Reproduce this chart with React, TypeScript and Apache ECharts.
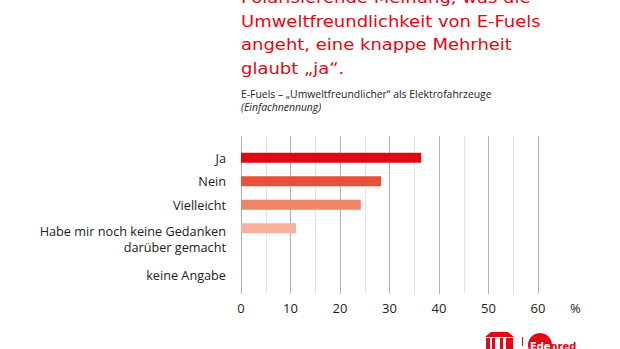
import React, { useEffect, useRef } from "react";
import * as echarts from "echarts";

const categories = [
  "Ja",
  "Nein",
  "Vielleicht",
  "Habe mir noch keine Gedanken\ndarüber gemacht",
  "",
  "keine Angabe",
];
const values: (number | null)[] = [36.4, 28.3, 24.2, 11.1, null, 0];
const barColors = ["#e30613", "#e8503a", "#f08466", "#f7b19c", "#f7b19c", "#f7b19c"];
const xTicks = [0, 10, 20, 30, 40, 50, 60];
const titleLines = [
  "Polarisierende Meinung, was die",
  "Umweltfreundlichkeit von E-Fuels",
  "angeht, eine knappe Mehrheit",
  "glaubt „ja“.",
];
const subtitle = "E-Fuels – „Umweltfreundlicher“ als Elektrofahrzeuge";
const subtitle2 = "(Einfachnennung)";

export default function App() {
  const ref = useRef<HTMLDivElement>(null);
  useEffect(() => {
    if (!ref.current) return;
    const chart = echarts.init(ref.current, null, { renderer: "svg" });
    const labelFont = "'Open Sans', sans-serif";
    const fs = 12.7;
    chart.setOption({
      animation: false,
      backgroundColor: "#ffffff",
      grid: [
        { left: 241, right: 82, top: 136, bottom: 55 },
        { left: 241, right: 82, top: 146, bottom: 62 },
      ],
      xAxis: [
        {
          gridIndex: 0,
          type: "value",
          min: xTicks[0],
          max: xTicks[xTicks.length - 1],
          interval: 10,
          axisLine: { show: false },
          axisTick: { show: false },
          minorTick: { show: false, splitNumber: 2 },
          splitLine: { show: true, lineStyle: { color: "#b0b0b0", width: 1 } },
          minorSplitLine: { show: true, lineStyle: { color: "#e4e4e4", width: 1 } },
          axisLabel: { margin: 7, fontSize: 13, color: "#222", fontFamily: labelFont },
        },
        { gridIndex: 1, type: "value", min: 0, max: 60, show: false },
      ],
      yAxis: [
        { gridIndex: 0, type: "value", show: false },
        {
          gridIndex: 1,
          type: "category",
          inverse: true,
          data: categories,
          axisLine: { show: false },
          axisTick: { show: false },
          splitLine: { show: false },
          axisLabel: {
            margin: 15,
            fontSize: fs,
            color: "#222",
            fontFamily: labelFont,
            formatter: (v: string) =>
              v.indexOf("\n") >= 0
                ? "{s| }\n{m|" + v.split("\n").join("}\n{m|") + "}"
                : v,
            rich: {
              s: { fontSize: 4, lineHeight: 21 },
              m: { fontSize: fs, color: "#222", fontFamily: labelFont, lineHeight: 16 },
            },
          },
        },
      ],
      series: [
        {
          type: "bar",
          xAxisIndex: 1,
          yAxisIndex: 1,
          barWidth: 10,
          data: values.map((v, i) => ({ value: v, itemStyle: { color: barColors[i] } })),
        },
      ],
      graphic: [
        {
          type: "text",
          x: 241,
          y: -14,
          scaleX: 1.09,
          style: {
            text: titleLines.join("\n"),
            fill: "#e30613",
            font: "16.5px 'DejaVu Sans', sans-serif",
            lineHeight: 23.5,
            verticalAlign: "top",
          },
        },
        {
          type: "text",
          x: 241,
          y: 94,
          style: {
            text: subtitle,
            fill: "#222",
            font: "10.4px 'Open Sans', sans-serif",
            verticalAlign: "middle",
          },
        },
        {
          type: "text",
          x: 241,
          y: 107,
          style: {
            text: subtitle2,
            fill: "#222",
            font: "italic 10.4px 'Open Sans', sans-serif",
            verticalAlign: "middle",
          },
        },
        {
          type: "text",
          x: 570,
          y: 308,
          style: {
            text: "%",
            fill: "#222",
            font: "13px 'Open Sans', sans-serif",
            verticalAlign: "middle",
          },
        },
        {
          type: "group",
          children: [
            { type: "polygon", shape: { points: [[485, 337], [491, 332], [508, 332], [514, 337]] }, style: { fill: "#e30613" } },
            { type: "rect", shape: { x: 486, y: 338, width: 4, height: 11 }, style: { fill: "#e30613" } },
            { type: "rect", shape: { x: 492, y: 338, width: 3, height: 11 }, style: { fill: "#e30613" } },
            { type: "rect", shape: { x: 500, y: 338, width: 3, height: 11 }, style: { fill: "#e30613" } },
            { type: "rect", shape: { x: 506, y: 338, width: 7, height: 11 }, style: { fill: "#e30613" } },
            { type: "rect", shape: { x: 522, y: 337, width: 1, height: 9 }, style: { fill: "#e30613" } },
            { type: "circle", shape: { cx: 540, cy: 345, r: 12 }, style: { fill: "#e30613" } },
            {
              type: "text",
              x: 530,
              y: 340,
              scaleX: 0.9,
              style: {
                text: "{w|Ede}{r|nred}",
                verticalAlign: "top",
                rich: {
                  w: { fill: "#ffffff", font: "bold 11px 'DejaVu Sans', sans-serif" },
                  r: { fill: "#e30613", font: "bold 11px 'DejaVu Sans', sans-serif" },
                },
              },
            },
          ],
        },
      ],
    });
    return () => chart.dispose();
  }, []);
  return (
    <div
      ref={ref}
      style={{ position: "fixed", left: 0, top: 0, width: 620, height: 349 }}
    />
  );
}
